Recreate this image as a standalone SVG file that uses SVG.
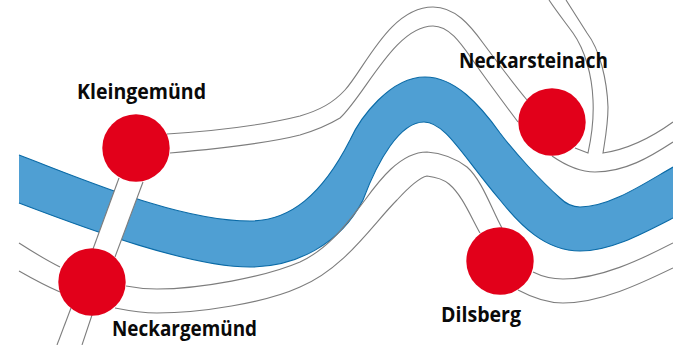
<svg xmlns="http://www.w3.org/2000/svg" width="673" height="345" viewBox="0 0 673 345">
<style>
.road{fill:none;stroke:#7d7d7d;stroke-width:1.1}
.edge{fill:none;stroke:#0a6aa6;stroke-width:1.1}
.town{fill:#e2001a}
.label{font-family:"Open Sans","Liberation Sans",sans-serif;font-weight:700;font-size:21px;fill:#0a0a0a}
</style>
<rect width="673" height="345" fill="#fff"/>
<g id="river">
<path fill="#4f9fd3" d="M19 155C90 182 180 221 250 221C290 221 322 195 350 140C360 118 390 77 425 77C455 77 480 105 500 133C515 153 540 180 560 198C566 204 573 207 580 207C610 207 645 183 673 167V218C640 235 610 251 580 251C545 251 520 225 500 200C462 155 445 122 424 122C400 122 378 160 363 200C340 245 295 267 250 267C190 267 90 230 19 203Z"/>
<path class="edge" d="M19 155C90 182 180 221 250 221C290 221 322 195 350 140C360 118 390 77 425 77C455 77 480 105 500 133C515 153 540 180 560 198C566 204 573 207 580 207C610 207 645 183 673 167"/>
<path class="edge" d="M19 203C90 230 190 267 250 267C295 267 340 245 363 200C378 160 400 122 424 122C445 122 462 155 500 200C520 225 545 251 580 251C610 251 640 235 673 218"/>
</g>
<g id="connectors">
<path d="M119 178L93 249L115 257L143 182Z" fill="#fff"/>
<path class="road" d="M119 178L93 249"/>
<path class="road" d="M143 182L115 257"/>
<path class="road" d="M71 308L57 345"/>
<path class="road" d="M92 315L82 345"/>
<path class="road" d="M19 243C33 252 46 260 60 267"/>
<path class="road" d="M19 271C33 279 46 286 60 292"/>
<path class="road" d="M126 286C136 288 146 289 157 289C200 289 265 277 300 262C330 248 348 222 365 200C378 182 400 152 427 152C440 153 455 158 467 167C482 180 492 210 502 228"/>
<path class="road" d="M115 308C130 311 145 313 157 313C200 313 265 303 300 287C345 268 372 225 397 200C408 188 418 178 427 176C435 177 443 179 449 184C462 195 470 215 480 233"/>
<path class="road" d="M533 272C543 277 553 279 563 279C600 279 640 260 673 243"/>
<path class="road" d="M518 290C533 298 548 303 563 303C600 303 640 284 673 268"/>
<path class="road" d="M167 134C215 131 260 126 300 116C320 110 333 103 345 90C365 68 390 7 433 7C455 7 470 25 483 43C498 63 512 82 527 100"/>
<path class="road" d="M170 153C215 149 265 144 300 135C320 129 330 124 340 118C365 95 395 26 433 26C450 26 462 45 474 62C488 82 503 102 518 122"/>
<path class="road" d="M575 148L588 153C592 135 594 120 593 100C592 75 585 50 573 33C565 22 557 12 549 0"/>
<path class="road" d="M566 0C573 11 580 22 587 33C600 50 607 80 608 107C608 125 605 140 603 153C630 149 655 135 673 122"/>
<path class="road" d="M552 156C565 165 580 172 595 172C625 172 650 157 673 142"/>
</g>
<g id="kleingemuend"><circle class="town" cx="136" cy="148" r="33.7"/><text class="label" x="77" y="99" textLength="129" lengthAdjust="spacingAndGlyphs">Kleingemünd</text></g>
<g id="neckargemuend"><circle class="town" cx="92" cy="282" r="33.7"/><text class="label" x="112" y="336" textLength="145" lengthAdjust="spacingAndGlyphs">Neckargemünd</text></g>
<g id="neckarsteinach"><circle class="town" cx="552" cy="122" r="33.7"/><text class="label" x="459" y="68" textLength="149" lengthAdjust="spacingAndGlyphs">Neckarsteinach</text></g>
<g id="dilsberg"><circle class="town" cx="500" cy="261" r="33.7"/><text class="label" x="441" y="322" textLength="80" lengthAdjust="spacingAndGlyphs">Dilsberg</text></g>
</svg>
